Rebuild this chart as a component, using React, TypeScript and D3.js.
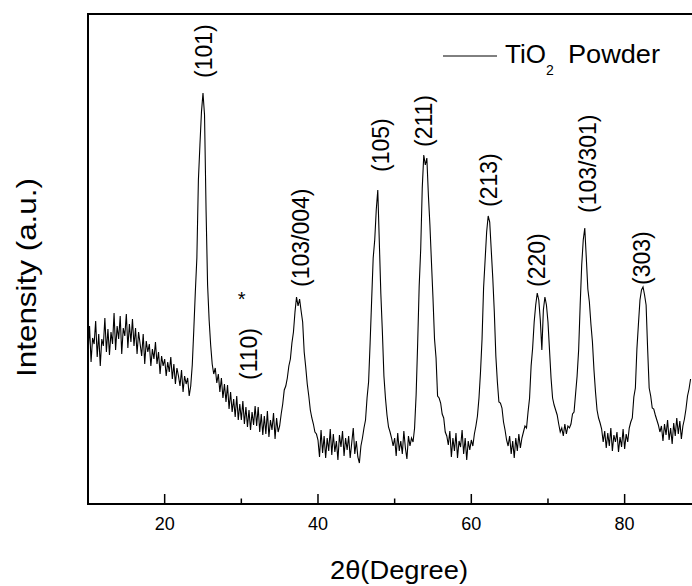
import React from 'react';
import * as d3 from 'd3';

// XRD scan: 2θ from START_ANGLE in steps of STEP degrees
const START_ANGLE = 10;
const STEP = 0.2;
const intensity: number[] = [
  150, 178, 142, 166, 160, // 10
  183, 147, 170, 138, 165, // 11
  158, 186, 152, 175, 149, // 12
  172, 160, 191, 154, 178, // 13
  165, 188, 150, 176, 168, // 14
  190, 156, 180, 162, 185, // 15
  158, 176, 150, 172, 160, // 16
  148, 170, 140, 163, 152, // 17
  160, 138, 155, 145, 162, // 18
  140, 152, 130, 148, 138, // 19
  145, 128, 142, 132, 147, // 20
  125, 140, 120, 136, 128, // 21
  118, 134, 112, 128, 120, // 22
  126, 108, 118, 139, 174, // 23
  212, 246, 324, 359, 392, // 24
  411, 389, 294, 219, 184, // 25
  159, 140, 130, 136, 121, // 26
  130, 112, 126, 106, 120, // 27
  102, 119, 95, 112, 92, // 28
  105, 87, 108, 84, 100, // 29
  84, 103, 80, 97, 77, // 30
  94, 74, 92, 79, 98, // 31
  78, 97, 72, 90, 69, // 32
  88, 70, 93, 67, 84, // 33
  74, 91, 65, 86, 72, // 34
  78, 90, 100, 114, 118, // 35
  126, 138, 145, 161, 172, // 36
  192, 207, 198, 205, 193, // 37
  182, 152, 137, 120, 108, // 38
  94, 86, 80, 72, 70, // 39
  64, 47, 74, 51, 68, // 40
  46, 66, 53, 75, 49, // 41
  70, 52, 63, 44, 69, // 42
  57, 73, 48, 66, 54, // 43
  68, 46, 61, 76, 50, // 44
  63, 47, 41, 58, 66, // 45
  76, 84, 106, 122, 161, // 46
  204, 246, 264, 294, 314, // 47
  262, 210, 172, 128, 106, // 48
  89, 77, 72, 66, 58, // 49
  66, 48, 71, 53, 63, // 50
  50, 73, 56, 45, 68, // 51
  58, 66, 62, 76, 109, // 52
  160, 218, 255, 316, 349, // 53
  339, 346, 309, 279, 242, // 54
  206, 165, 146, 108, 106, // 55
  101, 90, 86, 72, 68, // 56
  59, 73, 47, 66, 53, // 57
  71, 46, 63, 57, 74, // 58
  50, 66, 44, 63, 54, // 59
  64, 58, 70, 78, 88, // 60
  106, 132, 165, 216, 244, // 61
  272, 288, 282, 254, 226, // 62
  192, 148, 122, 102, 101, // 63
  96, 82, 74, 64, 58, // 64
  68, 50, 63, 46, 66, // 65
  53, 70, 56, 66, 72, // 66
  78, 76, 92, 106, 138, // 67
  156, 182, 199, 211, 204, // 68
  184, 154, 194, 207, 199, // 69
  182, 154, 126, 106, 99, // 70
  94, 89, 80, 72, 76, // 71
  68, 80, 70, 78, 76, // 72
  80, 90, 92, 110, 128, // 73
  154, 199, 239, 264, 276, // 74
  246, 215, 202, 180, 162, // 75
  134, 112, 94, 86, 81, // 76
  75, 62, 73, 56, 71, // 77
  58, 76, 53, 69, 62, // 78
  72, 52, 67, 57, 75, // 79
  55, 70, 62, 76, 82, // 80
  86, 107, 116, 155, 180, // 81
  204, 214, 217, 209, 199, // 82
  155, 116, 108, 96, 95, // 83
  89, 84, 79, 72, 78, // 84
  63, 80, 69, 84, 64, // 85
  76, 60, 81, 68, 86, // 86
  70, 83, 65, 78, 85, // 87
  95, 108, 115, 125, // 88
];

const xMajorTicks = [20, 40, 60, 80];
const xMinorTicks = [30, 50, 70];

const peakLabels = ['(101)', '(110)', '(103/004)', '(105)', '(211)', '(213)', '(220)', '(103/301)', '(303)'];
const peakLabelAngles = [25.13, 31.0, 37.76, 48.22, 53.82, 62.24, 68.52, 75.21, 82.32];
const peakLabelLevels = [426, 124, 217, 332, 357, 297, 217, 291, 219];

const starAngle = 30.05;
const starLevel = 198;

const legendName = 'TiO';
const legendSub = '2';
const legendRest = 'Powder';
const xTitle = '2θ(Degree)';
const yTitle = 'Intensity (a.u.)';

const FONT = '"Liberation Sans", Arial, Helvetica, sans-serif';

export default function App() {
  const W = 692;
  const H = 586;
  const left = 88;
  const right = 701.3;
  const top = 14;
  const bottom = 504;

  const x = d3.scaleLinear().domain([10, 90]).range([left, right]);
  const y = d3.scaleLinear().domain([0, 490]).range([bottom, top]);

  const pts: [number, number][] = intensity.map((v, i) => [START_ANGLE + i * STEP, v]);
  const line = d3
    .line<[number, number]>()
    .x((d) => x(d[0]))
    .y((d) => y(d[1]));

  return (
    <svg
      width={W}
      height={H}
      style={{ position: 'absolute', left: 0, top: 0, background: '#fff' }}
      fontFamily={FONT}
    >
      <defs>
        <clipPath id="plot">
          <rect x={left} y={top} width={right - left} height={bottom - top} />
        </clipPath>
      </defs>
      <rect x={0} y={0} width={W} height={H} fill="#fff" />

      <path
        d={line(pts) || ''}
        fill="none"
        stroke="#000"
        strokeWidth={1.1}
        strokeLinejoin="miter"
        clipPath="url(#plot)"
      />

      {/* frame */}
      <rect x={left} y={top} width={right - left} height={bottom - top} fill="none" stroke="#000" strokeWidth={2} />

      {/* ticks */}
      {xMajorTicks.map((t) => (
        <g key={'M' + t}>
          <line x1={x(t)} x2={x(t)} y1={bottom} y2={bottom - 10} stroke="#000" strokeWidth={1.5} />
          <text x={x(t)} y={530} textAnchor="middle" fontSize={18} fill="#000">
            {t}
          </text>
        </g>
      ))}
      {xMinorTicks.map((t) => (
        <line key={'m' + t} x1={x(t)} x2={x(t)} y1={bottom} y2={bottom - 5.5} stroke="#000" strokeWidth={1.5} />
      ))}

      {/* peak labels */}
      {peakLabels.map((lab, i) => (
        <text
          key={lab + i}
          transform={`translate(${x(peakLabelAngles[i])},${y(peakLabelLevels[i])}) rotate(-90)`}
          dy="0.35em"
          fontSize={23}
          fill="#000"
        >
          {lab}
        </text>
      ))}
      <text x={x(starAngle)} y={y(starLevel)} textAnchor="middle" fontSize={20} fill="#000">
        *
      </text>

      {/* legend */}
      <line x1={443} x2={497} y1={56} y2={56} stroke="#000" strokeWidth={1} />
      <text x={505} y={63} fontSize={26} fill="#000">
        {legendName}
      </text>
      <text x={546} y={75} fontSize={14} fill="#000">
        {legendSub}
      </text>
      <text x={568} y={63} fontSize={26} fill="#000" textLength={92} lengthAdjust="spacingAndGlyphs">
        {legendRest}
      </text>

      {/* axis titles */}
      <text x={330} y={579} fontSize={26} fill="#000" textLength={138} lengthAdjust="spacingAndGlyphs">
        {xTitle}
      </text>
      <text
        transform={`translate(36,377) rotate(-90)`}
        fontSize={28}
        fill="#000"
        textLength={199}
        lengthAdjust="spacingAndGlyphs"
      >
        {yTitle}
      </text>
    </svg>
  );
}
